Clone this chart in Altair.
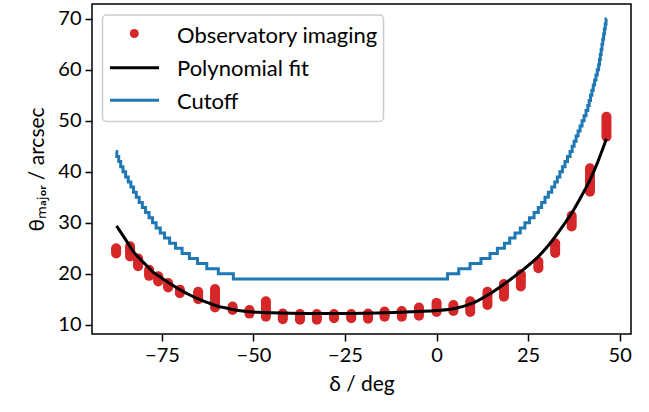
import altair as alt
import pandas as pd

FONT = "Lato"
RED = "#d62728"
BLUE = "#1f77b4"

# ---- Observatory imaging: declination columns and the theta values seen in each ----
obs_dec = [-87.5, -83.7, -81.5, -78.5, -76.0, -73.3, -70.1, -65.1, -60.5, -55.7,
           -51.1, -46.6, -42.0, -37.3, -32.7, -28.0, -23.3, -18.7, -14.2, -9.5,
           -4.8, 0.0, 4.6, 9.2, 13.9, 18.4, 23.0, 27.8, 32.4, 36.9, 41.9, 46.4]
obs_theta = [
    [24.0, 24.4, 24.7, 25.0],
    [23.4, 23.9, 24.4, 24.9, 25.4],
    [21.5, 21.9, 22.3, 22.7, 23.0],
    [19.6, 20.0, 20.4, 20.8],
    [18.5, 18.8, 19.1, 19.5],
    [17.3, 17.6, 17.9, 18.2],
    [16.2, 16.5, 16.9],
    [15.0, 15.4, 15.8, 16.2, 16.5],
    [13.4, 13.9, 14.4, 14.9, 15.4, 15.9, 16.4, 17.0],
    [12.9, 13.2, 13.6],
    [12.2, 12.5, 12.9],
    [11.6, 12.1, 12.6, 13.1, 13.6, 14.1, 14.6],
    [11.1, 11.5, 11.9, 12.2],
    [11.0, 11.4, 11.8, 12.1],
    [11.0, 11.4, 11.8, 12.1],
    [11.3, 11.7, 12.1],
    [11.3, 11.7, 12.1],
    [11.2, 11.6, 11.9, 12.2],
    [11.6, 11.9, 12.3, 12.6],
    [11.6, 12.0, 12.4, 12.7],
    [11.8, 12.2, 12.6, 13.0, 13.4],
    [12.5, 12.9, 13.4, 13.9, 14.3],
    [12.7, 13.1, 13.5, 13.9],
    [12.5, 13.0, 13.5, 14.1, 14.6],
    [13.9, 14.4, 14.9, 15.5, 16.0, 16.5],
    [15.5, 16.0, 16.5, 17.0, 17.5, 18.0],
    [17.5, 18.0, 18.5, 19.0, 19.5, 19.9],
    [21.1, 21.5, 22.0, 22.4],
    [24.1, 24.6, 25.1, 25.6, 26.0],
    [29.3, 29.8, 30.3, 30.9, 31.4],
    [36.1, 36.6, 37.1, 37.6, 38.1, 38.6, 39.1, 39.6, 40.2, 40.7],
    [46.9, 47.4, 47.9, 48.4, 48.9, 49.4, 49.9, 50.4, 50.8],
]

# ---- Polynomial fit ----
fit_dec = [-87.4, -85, -82.5, -80, -77.5, -75, -72.5, -70, -67.5, -65, -62.5, -60,
           -57.5, -55, -50, -45, -40, -35, -30, -25, -20, -15, -10, -5, 0, 5, 10,
           15, 20, 25, 27.8, 30, 32.4, 35, 36.9, 40, 41.9, 44, 46.4]
fit_theta = [29.4, 26.8, 24.1, 22.2, 20.4, 19.15, 17.95, 16.85, 15.9, 15.05, 14.35, 13.7,
             13.3, 12.9, 12.5, 12.35, 12.25, 12.2, 12.2, 12.2, 12.25, 12.35, 12.45, 12.6,
             12.8, 13.2, 14.3, 16.3, 18.8, 21.6, 23.4, 25.1, 27.3, 29.9, 31.9, 35.8, 38.4,
             41.9, 46.5]

# ---- Cutoff: declination where each integer level starts (stepped curve) ----
cut_dec = [-87.6, -87.33, -86.8, -86.27, -85.64, -84.92, -84.2, -83.48, -82.75, -82.01,
           -81.23, -80.35, -79.47, -78.52, -77.56, -76.59, -75.46, -74.29, -72.9, -71.3,
           -69.5, -67.5, -65.3, -62.75, -59.6, -55.5,
           3.0, 6.06, 9.14, 12.12, 14.6, 16.6, 18.54, 19.98, 21.42, 22.86, 24.13, 25.38,
           26.63, 27.78, 28.69, 29.61, 30.53, 31.45, 32.28, 32.98, 33.67, 34.37, 35.07,
           35.76, 36.46, 37.03, 37.57, 38.11, 38.65, 39.19, 39.73, 40.28, 40.82, 41.31,
           41.68, 42.05, 42.42, 42.79, 43.16, 43.53, 43.9, 44.26, 44.5, 44.72, 44.95,
           45.17, 45.39, 45.62, 45.84, 46.06, 46.29, 46.4]
cut_val = [44, 43, 42, 41, 40, 39, 38, 37, 36, 35,
           34, 33, 32, 31, 30, 29, 28, 27, 26, 25,
           24, 23, 22, 21, 20, 19,
           20, 21, 22, 23, 24, 25, 26, 27, 28, 29, 30, 31,
           32, 33, 34, 35, 36, 37, 38, 39, 40, 41, 42,
           43, 44, 45, 46, 47, 48, 49, 50, 51, 52, 53,
           54, 55, 56, 57, 58, 59, 60, 61, 62, 63, 64,
           65, 66, 67, 68, 69, 70, 70]

legend_labels = ["Observatory imaging", "Polynomial fit", "Cutoff"]

obs_rows = [{"dec": d, "theta": t} for d, ts in zip(obs_dec, obs_theta) for t in ts]
obs_df = pd.DataFrame(obs_rows)
fit_df = pd.DataFrame({"dec": fit_dec, "theta": fit_theta})
cut_df = pd.DataFrame({"dec": cut_dec, "theta": cut_val})

xscale = alt.Scale(domain=[-94.1, 53.1], nice=False, zero=False)
yscale = alt.Scale(domain=[8.2, 72.9], nice=False, zero=False)

xaxis = alt.Axis(values=[-75, -50, -25, 0, 25, 50], title="δ / deg", grid=False)
yaxis = alt.Axis(values=[10, 20, 30, 40, 50, 60, 70], title="θₘₐⱼₒᵣ / arcsec", grid=False)

X = alt.X("dec:Q", scale=xscale, axis=xaxis)
Y = alt.Y("theta:Q", scale=yscale, axis=yaxis)

cutoff = alt.Chart(cut_df).mark_line(color=BLUE, strokeWidth=3, interpolate="step-after").encode(x=X, y=Y)
points = alt.Chart(obs_df).mark_circle(color=RED, size=100, opacity=1).encode(x=X, y=Y)
fit = alt.Chart(fit_df).mark_line(color="black", strokeWidth=3, interpolate="monotone").encode(x=X, y=Y)

one = pd.DataFrame({"a": [0]})
leg_box = alt.Chart(one).mark_rect(fill="white", fillOpacity=0.85, stroke="#cccccc",
                                   strokeWidth=1.5, cornerRadius=4).encode(
    x=alt.value(10.5), x2=alt.value(291.5), y=alt.value(11), y2=alt.value(117.5))
leg_dot = alt.Chart(one).mark_circle(color=RED, size=80, opacity=1).encode(
    x=alt.value(42.3), y=alt.value(29.5))
leg_fit = alt.Chart(one).mark_rule(color="black", strokeWidth=3).encode(
    x=alt.value(18), x2=alt.value(67), y=alt.value(63.7))
leg_cut = alt.Chart(one).mark_rule(color=BLUE, strokeWidth=3).encode(
    x=alt.value(18), x2=alt.value(67), y=alt.value(96.3))
leg_texts = [
    alt.Chart(one).mark_text(align="left", baseline="alphabetic", fontSize=22, font=FONT,
                             color="black").encode(
        x=alt.value(85), y=alt.value(yy), text=alt.value(lab))
    for lab, yy in zip(legend_labels, [38.5, 71.5, 104.5])
]

chart = alt.layer(cutoff, points, fit, leg_box, leg_dot, leg_fit, leg_cut, *leg_texts).properties(
    width=539, height=330,
    padding={"left": 92, "top": 4, "right": 18, "bottom": 78},
    autosize="none",
).configure_view(
    stroke="black", strokeWidth=1.5
).configure_axis(
    domain=False, ticks=True, tickColor="black", tickWidth=1.5, tickSize=7,
    labelFont=FONT, labelFontSize=20, labelColor="black", labelPadding=4,
    titleFont=FONT, titleFontSize=21, titleColor="black", titleFontWeight="normal",
).configure_axisX(titlePadding=8).configure_axisY(titlePadding=10)

chart.save("out.html", embed_options={"renderer": "svg", "actions": False})
